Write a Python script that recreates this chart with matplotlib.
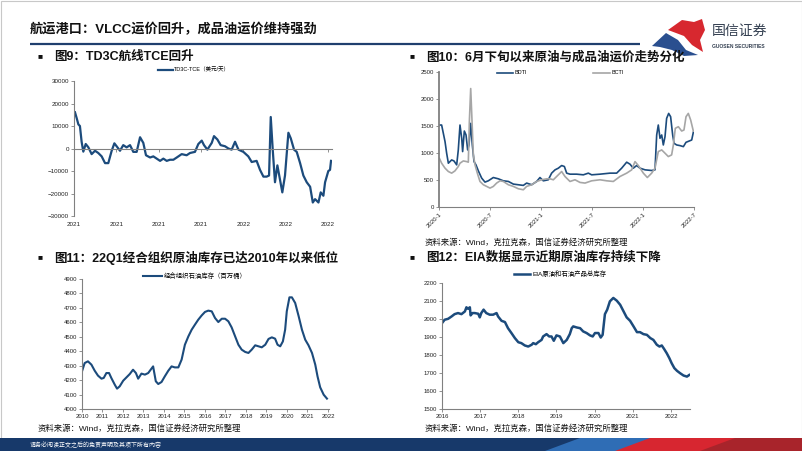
import matplotlib
matplotlib.use("Agg")
import matplotlib.pyplot as plt
from matplotlib.patches import Polygon, Rectangle

plt.rcParams['font.family'] = ['Liberation Sans', 'Noto Sans CJK SC', 'DejaVu Sans']

# ---- data ----
# Fig 9: TD3C TCE, x = months since 2021-01
td3c_month = [0.07, 0.19, 0.31, 0.42, 0.54, 0.66, 0.83, 1.02, 1.25, 1.49,
              1.72, 1.96, 2.2, 2.43, 2.67, 2.86, 3.02, 3.26, 3.49, 3.73,
              3.97, 4.2, 4.44, 4.68, 4.91, 5.1, 5.39, 5.62, 5.86, 6.1,
              6.33, 6.57, 6.8, 7.04, 7.28, 7.63, 7.98, 8.22, 8.57, 8.81,
              9.05, 9.21, 9.45, 9.76, 9.92, 10.16, 10.39, 10.7, 10.94, 11.17,
              11.41, 11.65, 12.0, 12.35, 12.59, 12.94, 13.18, 13.42, 13.65, 13.82,
              13.94, 14.08, 14.24, 14.41, 14.6, 14.76, 14.95, 15.19, 15.36, 15.59,
              15.78, 16.02, 16.25, 16.49, 16.73, 16.92, 17.08, 17.32, 17.48, 17.67,
              17.79, 18.02, 18.14, 18.21]
td3c_tce = [16100, 13500, 10700, 10000, 3000, -1400, 2000, 500, -2500, -1000,
            -2000, -3500, -6500, -6500, -1000, 2300, 1000, -1000, 1500, 500,
            1500, -1500, -1500, 5000, 2500, -3000, -4000, -3500, -4500, -5500,
            -4500, -5500, -5000, -5000, -4000, -2500, -3000, -2000, -1500, 2000,
            3500, 1500, -500, 2500, 5500, 4000, 1500, 1000, 0, -500,
            3000, -500, -1500, -3500, -6000, -5500, -9500, -12500, -12500, -12000,
            14000, -500, -15000, -7500, -14000, -19500, -12000, 7000, 4500, -500,
            -1500, -6500, -12000, -15000, -17000, -24000, -22500, -24000, -19500, -21000,
            -15000, -10000, -9500, -5500]
td3c_ticks = [0, 3, 6, 9, 12, 15, 18]
td3c_labels = ['2021', '2021', '2021', '2021', '2022', '2022', '2022']

# Fig 10: BDTI / BCTI, x = months since 2020-01
bdti_month = [0.04, 0.31, 0.51, 0.71, 0.90, 1.10, 1.49, 1.76, 2.08, 2.27,
              2.47, 2.67, 2.78, 2.98, 3.18, 3.37, 3.53, 3.73, 3.92, 4.12,
              4.35, 4.63, 5.02, 5.41, 5.80, 6.39, 6.98, 7.57, 8.16, 8.75,
              9.33, 9.92, 10.31, 10.90, 11.49, 11.88, 12.27, 12.86, 13.25, 13.65,
              14.04, 14.43, 14.75, 15.02, 15.41, 16.2, 16.98, 17.57, 17.96, 18.94,
              20.12, 20.9, 21.49, 22.08, 22.47, 22.86, 23.25, 23.65, 24.24, 25.02,
              25.41, 25.61, 25.8, 26.0, 26.2, 26.39, 26.59, 26.78, 27.02, 27.25,
              27.49, 27.65, 27.96, 28.35, 28.75, 29.06, 29.45, 29.73, 29.92]
bdti = [1518, 1518, 1364, 1210, 996, 811, 872, 853, 780, 1057,
        1518, 1272, 1026, 1407, 1334, 1057, 1149, 1549, 1149, 841,
        780, 669, 535, 461, 485, 546, 522, 485, 473, 424,
        412, 400, 443, 412, 473, 546, 485, 504, 627, 688,
        719, 768, 750, 627, 608, 608, 596, 627, 596, 608,
        627, 627, 719, 830, 793, 719, 768, 719, 688, 676,
        688, 1334, 1518, 1272, 1334, 1149, 1303, 1641, 1733, 1672,
        1334, 1180, 1149, 1137, 1118, 1198, 1223, 1241, 1383]
bcti_month = [0.04, 0.31, 0.71, 1.10, 1.49, 1.88, 2.27, 2.47, 2.86, 3.25,
              3.45, 3.57, 3.73, 3.88, 4.04, 4.24, 4.51, 4.82, 5.22, 5.61,
              6.0, 6.39, 6.78, 7.18, 7.57, 8.16, 8.75, 9.33, 9.92, 10.31,
              10.9, 11.49, 12.08, 12.67, 13.06, 13.45, 14.04, 14.43, 14.82, 15.41,
              16.0, 16.59, 17.18, 17.96, 18.94, 19.73, 20.51, 21.29, 22.08, 22.67,
              23.06, 23.45, 24.04, 24.51, 25.02, 25.41, 25.8, 26.2, 26.59, 26.98,
              27.37, 27.57, 27.8, 28.16, 28.55, 28.82, 29.06, 29.33, 29.61, 29.92]
bcti = [903, 811, 719, 657, 627, 669, 750, 811, 853, 841,
        830, 1579, 2194, 1610, 965, 780, 627, 473, 412, 381,
        350, 381, 443, 485, 473, 412, 381, 338, 319, 381,
        412, 473, 504, 522, 522, 504, 596, 657, 565, 473,
        504, 455, 443, 485, 504, 485, 473, 565, 627, 688,
        841, 768, 627, 546, 627, 719, 1026, 1057, 996, 934,
        965, 1149, 1457, 1487, 1407, 1426, 1672, 1733, 1610, 1407]
bti_ticks = [0, 6, 12, 18, 24, 30]
bti_labels = ['2020-1', '2020-7', '2021-1', '2021-7', '2022-1', '2022-7']

# Fig 11: OECD commercial oil stocks (million bbl)
oecd_year = [2010.00, 2010.13, 2010.29, 2010.46, 2010.62, 2010.78, 2010.95, 2011.06, 2011.19, 2011.32,
             2011.43, 2011.60, 2011.71, 2011.84, 2012.01, 2012.17, 2012.33, 2012.49, 2012.63, 2012.74,
             2012.90, 2013.07, 2013.23, 2013.47, 2013.60, 2013.72, 2013.88, 2014.04, 2014.21, 2014.37,
             2014.53, 2014.70, 2014.86, 2015.02, 2015.19, 2015.35, 2015.51, 2015.67, 2015.84, 2016.00,
             2016.16, 2016.33, 2016.49, 2016.65, 2016.82, 2016.98, 2017.14, 2017.30, 2017.47, 2017.63,
             2017.79, 2017.96, 2018.12, 2018.28, 2018.45, 2018.61, 2018.77, 2018.94, 2019.10, 2019.26,
             2019.42, 2019.54, 2019.67, 2019.80, 2019.91, 2019.99, 2020.12, 2020.24, 2020.40, 2020.57,
             2020.73, 2020.89, 2021.05, 2021.22, 2021.38, 2021.49, 2021.62, 2021.79, 2021.95]
oecd_stock = [4261, 4318, 4330, 4307, 4265, 4231, 4210, 4215, 4249, 4249,
              4215, 4168, 4141, 4157, 4196, 4219, 4242, 4272, 4249, 4210,
              4245, 4238, 4249, 4295, 4192, 4173, 4187, 4226, 4265, 4295,
              4288, 4288, 4342, 4445, 4503, 4549, 4584, 4618, 4648, 4672,
              4681, 4676, 4630, 4602, 4625, 4625, 4607, 4565, 4503, 4445,
              4411, 4395, 4388, 4411, 4441, 4434, 4427, 4445, 4485, 4496,
              4487, 4445, 4434, 4468, 4549, 4676, 4773, 4773, 4734, 4642,
              4549, 4480, 4441, 4388, 4307, 4226, 4150, 4099, 4072]

# Fig 12: EIA crude + products total stocks
eia_year = [2016.00, 2016.07, 2016.16, 2016.25, 2016.33, 2016.42, 2016.51, 2016.60, 2016.64, 2016.68,
            2016.73, 2016.75, 2016.80, 2016.86, 2016.95, 2016.99, 2017.03, 2017.09, 2017.16, 2017.25,
            2017.34, 2017.43, 2017.47, 2017.56, 2017.65, 2017.73, 2017.82, 2017.91, 2018.00, 2018.08,
            2018.17, 2018.26, 2018.35, 2018.39, 2018.46, 2018.52, 2018.61, 2018.65, 2018.74, 2018.81,
            2018.87, 2018.93, 2019.00, 2019.09, 2019.18, 2019.27, 2019.35, 2019.40, 2019.44, 2019.53,
            2019.62, 2019.70, 2019.79, 2019.88, 2019.95, 2020.01, 2020.10, 2020.16, 2020.21, 2020.27,
            2020.33, 2020.40, 2020.49, 2020.58, 2020.67, 2020.75, 2020.84, 2020.93, 2021.02, 2021.11,
            2021.19, 2021.28, 2021.37, 2021.46, 2021.54, 2021.63, 2021.70, 2021.76, 2021.82, 2021.89,
            2021.96, 2022.02, 2022.09, 2022.16, 2022.24, 2022.33, 2022.42, 2022.48]
eia_stock = [1977, 1996, 2001, 2014, 2027, 2033, 2027, 2042, 2065, 2057,
             2065, 2020, 2033, 2033, 2029, 2009, 2033, 2052, 2033, 2024,
             2024, 2033, 2014, 1990, 1983, 1949, 1922, 1894, 1871, 1866,
             1853, 1847, 1857, 1866, 1860, 1871, 1884, 1903, 1916, 1903,
             1903, 1879, 1909, 1903, 1866, 1884, 1916, 1949, 1959, 1953,
             1949, 1931, 1922, 1909, 1903, 1922, 1922, 1897, 1912, 2027,
             2052, 2098, 2117, 2102, 2079, 2046, 2009, 1990, 1959, 1927,
             1927, 1916, 1912, 1894, 1884, 1857, 1847, 1853, 1834, 1810,
             1782, 1754, 1727, 1712, 1699, 1686, 1680, 1689]

NAVY = '#1C4B7C'
GREY = '#A6A6A6'
AXC = '#808080'
W, H = 802, 451

fig = plt.figure(figsize=(8.02, 4.51), dpi=100)

# background layer in pixel coordinates for the slide decoration
deco = fig.add_axes([0, 0, 1, 1])
deco.set_xlim(0, W)
deco.set_ylim(H, 0)
deco.axis('off')


def px_axes(x0, y0, x1, y1):
    ax = fig.add_axes([x0 / W, 1 - y1 / H, (x1 - x0) / W, (y1 - y0) / H])
    ax.set_facecolor('none')
    return ax


# slide frame, title, rule
deco.add_patch(Rectangle((0.5, 0.5), W - 1, H - 1, fill=False, ec='#C8C8C8', lw=0.8))
deco.text(30, 30, '航运港口：VLCC运价回升，成品油运价维持强劲', fontsize=9.5, fontweight='bold',
          va='center', ha='left', color='#111111')
deco.plot([30, 640], [44, 44], color='#1F3F6E', lw=1.6, solid_capstyle='butt')

# logo
deco.add_patch(Polygon([(668, 30), (682, 20), (694, 22), (702, 19), (705, 30), (700, 40),
                        (703, 52), (692, 45), (684, 36)], closed=True, fc='#D7282F', ec='none'))
deco.add_patch(Polygon([(652, 46), (666, 33), (678, 40), (686, 50), (698, 55), (684, 56),
                        (672, 50), (660, 47)], closed=True, fc='#2A4F8F', ec='none'))
deco.text(712, 31, '国信证券', fontsize=10, color='#333F50', va='center', ha='left')
deco.text(712, 46, 'GUOSEN SECURITIES', fontsize=3.6, color='#333F50', fontweight='bold',
          va='center', ha='left')

# footer band
deco.add_patch(Rectangle((0, 438), W, 13, fc='#17396A', ec='none'))
deco.add_patch(Polygon([(545, 451), (580, 438), (660, 438), (625, 451)], fc='#2F6DB5', ec='none'))
deco.add_patch(Polygon([(615, 451), (650, 438), (W, 438), (W, 451)], fc='#D72630', ec='none'))
deco.add_patch(Polygon([(700, 451), (735, 438), (W, 438), (W, 451)], fc='#A8242B', ec='none'))
deco.text(30, 444.5, '请务必阅读正文之后的免责声明及其项下所有内容', fontsize=4.3, color='white',
          va='center', ha='left')

# headings and sources
headings = [(38, 57, '图9：TD3C航线TCE回升'),
            (410, 57, '图10：6月下旬以来原油与成品油运价走势分化'),
            (38, 258, '图11：22Q1经合组织原油库存已达2010年以来低位'),
            (410, 258, '图12：EIA数据显示近期原油库存持续下降')]
for hx, hy, txt in headings:
    deco.text(hx, hy, '■', fontsize=6, va='center', ha='left', color='#111111')
    deco.text(hx + 16, hy, txt, fontsize=9, fontweight='bold', va='center', ha='left',
              color='#111111')
src = '资料来源：Wind，克拉克森，国信证券经济研究所整理'
for sx, sy in [(425, 243), (38, 429), (425, 429)]:
    deco.text(sx, sy, src, fontsize=6, va='center', ha='left', color='#111111')


def style(ax, size):
    for s in ['top', 'right']:
        ax.spines[s].set_visible(False)
    for s in ['left', 'bottom']:
        ax.spines[s].set_color(AXC)
        ax.spines[s].set_linewidth(0.8)
    ax.tick_params(length=2, width=0.6, color=AXC, labelsize=size, labelcolor='#222222', pad=1.5)


def legend(ax, cx, cy, size, hl, ncol=1, cs=2.0):
    ax.legend(loc='center', bbox_to_anchor=(cx / W, 1 - cy / H), bbox_transform=fig.transFigure,
              frameon=False, fontsize=size, handlelength=hl, ncol=ncol, columnspacing=cs,
              handletextpad=0.3, borderpad=0, borderaxespad=0)


# Fig 9
ax1 = px_axes(74, 81, 332, 216)
ax1.plot(td3c_month, td3c_tce, color=NAVY, lw=1.6, label='TD3C-TCE（美元/天）')
ax1.set_xlim(0, 18.28)
ax1.set_ylim(-30000, 30000)
ax1.set_yticks(range(-30000, 30001, 10000))
style(ax1, 4.5)
ax1.spines['bottom'].set_position(('data', 0))
ax1.set_xticks(td3c_ticks)
ax1.tick_params(axis='x', labelbottom=False)
sec = ax1.secondary_xaxis('bottom')
sec.set_xticks(td3c_ticks, labels=td3c_labels)
sec.spines['bottom'].set_visible(False)
sec.tick_params(length=0, labelsize=4.5, pad=4, labelcolor='#222222')
legend(ax1, 194, 70, 4, 2.7)

# Fig 10
ax2 = px_axes(439, 72, 694, 207)
ax2.plot(bdti_month, bdti, color=NAVY, lw=1.2, label='BDTI')
ax2.plot(bcti_month, bcti, color=GREY, lw=1.2, label='BCTI')
ax2.set_xlim(0, 30)
ax2.set_ylim(0, 2500)
ax2.set_yticks(range(0, 2501, 500))
style(ax2, 4.3)
ax2.spines['left'].set_linewidth(1.3)
ax2.set_xticks(bti_ticks)
ax2.set_xticklabels(bti_labels, rotation=45, ha='right', rotation_mode='anchor')
legend(ax2, 560, 73, 4, 2.9, ncol=2, cs=12)

# Fig 11
ax3 = px_axes(82, 279, 329, 409)
ax3.plot(oecd_year, oecd_stock, color=NAVY, lw=1.5, label='经合组织石油库存（百万桶）')
ax3.set_xlim(2010, 2022.05)
ax3.set_ylim(4000, 4900)
ax3.set_yticks(range(4000, 4901, 100))
ax3.set_xticks(range(2010, 2023))
style(ax3, 4.3)
legend(ax3, 195, 276, 4.6, 3)

# Fig 12
ax4 = px_axes(442, 283, 690, 409)
ax4.plot(eia_year, eia_stock, color=NAVY, lw=1.8, label='EIA原油和石油产品总库存')
ax4.set_xlim(2016, 2022.5)
ax4.set_ylim(1500, 2200)
ax4.set_yticks(range(1500, 2201, 100))
ax4.set_xticks(range(2016, 2023))
style(ax4, 4.3)
legend(ax4, 560, 274, 4.6, 2.6)

fig.savefig('out.png', dpi=100)
